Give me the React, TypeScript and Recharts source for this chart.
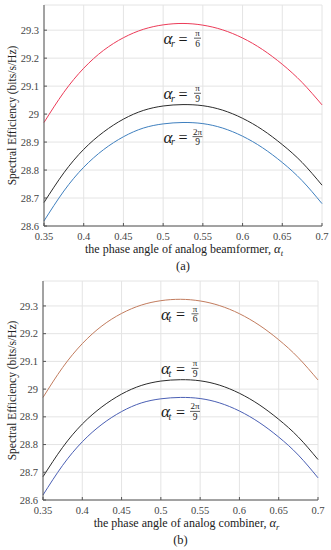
import React from "react";
import { LineChart, Line, XAxis, YAxis, CartesianGrid, ReferenceDot } from "recharts";

// phase angle samples (rad)
const phaseAngles = [0.35, 0.375, 0.4, 0.425, 0.45, 0.475, 0.5, 0.525, 0.55, 0.575, 0.6, 0.625, 0.65, 0.675, 0.7];
// spectral efficiency, one curve per fixed angle
const sePi6 = [28.97, 29.078, 29.164, 29.228, 29.273, 29.303, 29.319, 29.324, 29.318, 29.301, 29.272, 29.231, 29.178, 29.113, 29.033];
const sePi9 = [28.684, 28.79, 28.874, 28.936, 28.982, 29.013, 29.029, 29.034, 29.03, 29.014, 28.985, 28.944, 28.891, 28.827, 28.746];
const se2Pi9 = [28.618, 28.725, 28.81, 28.873, 28.919, 28.95, 28.965, 28.97, 28.966, 28.95, 28.921, 28.88, 28.827, 28.762, 28.68];

const xTicks = [0.35, 0.4, 0.45, 0.5, 0.55, 0.6, 0.65, 0.7];
const yTicks = [28.6, 28.7, 28.8, 28.9, 29, 29.1, 29.2, 29.3];

// where the curve labels sit (data coords, baseline of the alpha)
const labelX = 0.525;
const labelY = [29.25, 29.053, 28.898];
const labelNum = ["π", "π", "2π"];
const labelDen = ["6", "9", "9"];

const data = phaseAngles.map((x, i) => ({ x, a: sePi6[i], b: sePi9[i], c: se2Pi9[i] }));

const AXIS = "#555";
const SERIF = "Liberation Serif, Times New Roman, serif";

function BottomTick({ x, y, payload }: any) {
  return (
    <g>
      <line x1={x} y1={y} x2={x} y2={y - 3} stroke={AXIS} />
      <text x={x} y={y + 13.5} textAnchor="middle" fontSize={10.5} fontFamily={SERIF} fill="#444">
        {String(payload.value)}
      </text>
    </g>
  );
}
function LeftTick({ x, y, payload }: any) {
  return (
    <g>
      <line x1={x} y1={y} x2={x + 3} y2={y} stroke={AXIS} />
      <text x={x - 5} y={y + 3.6} textAnchor="end" fontSize={10.5} fontFamily={SERIF} fill="#444">
        {String(payload.value)}
      </text>
    </g>
  );
}
const TopTick = ({ x, y }: any) => <line x1={x} y1={y} x2={x} y2={y + 3} stroke={AXIS} />;
const RightTick = ({ x, y }: any) => <line x1={x} y1={y} x2={x - 3} y2={y} stroke={AXIS} />;

function MathLabel({ cx, b, sub, num, den }: any) {
  const fx = cx + 14.5;
  const barW = num.length > 1 ? 10 : 7;
  return (
    <g fontFamily={SERIF} fill="#1a1a1a">
      <text x={cx - 10.5} y={b} fontSize={17} fontStyle="italic" textAnchor="end">α</text>
      <text x={cx - 12} y={b + 2.5} fontSize={10} fontStyle="italic">{sub}</text>
      <text x={cx} y={b + 0.5} fontSize={16} textAnchor="middle">=</text>
      <text x={fx} y={b - 8} fontSize={9} textAnchor="middle">{num}</text>
      <line x1={fx - barW / 2} x2={fx + barW / 2} y1={b - 6} y2={b - 6} stroke="#1a1a1a" strokeWidth={0.7} />
      <text x={fx} y={b + 2.5} fontSize={9.5} textAnchor="middle">{den}</text>
    </g>
  );
}

interface PanelProps {
  top: number;
  margin: { top: number; right: number; left: number; bottom: number };
  yWidth: number;
  xHeight: number;
  colors: string[];
  labelSub: string;
  xTitle: string;
  xSub: string;
  titleShift: number;
  caption: string;
}

function Panel(p: PanelProps) {
  return (
    <div style={{ position: "absolute", left: 0, top: p.top }}>
      <LineChart width={331} height={275} data={data} margin={p.margin}>
        <CartesianGrid stroke="#e4e4e4" strokeWidth={1} />
        <XAxis
          dataKey="x" type="number" domain={[0.35, 0.7]} ticks={xTicks} interval={0}
          height={p.xHeight} tickSize={0} tickMargin={0} tickLine={false}
          axisLine={{ stroke: AXIS }} tick={<BottomTick />}
          label={{
            content: (lp: any) => {
              const vb = lp.viewBox;
              const cx = vb.x + vb.width / 2;
              return (
                <g fontFamily={SERIF} fill="#222">
                  <text x={cx + p.titleShift} y={vb.y + 27} textAnchor="middle" fontSize={12}>
                    {p.xTitle}
                    <tspan fontStyle="italic" fontSize={12.5}>α</tspan>
                    <tspan fontStyle="italic" fontSize={8.5} dy={2.5}>{p.xSub}</tspan>
                  </text>
                  <text x={cx} y={vb.y + 43.5} textAnchor="middle" fontSize={12.5}>{p.caption}</text>
                </g>
              );
            },
          }}
        />
        <XAxis
          xAxisId="top" orientation="top" dataKey="x" type="number" domain={[0.35, 0.7]}
          allowDataOverflow ticks={xTicks} interval={0} height={0} tickSize={0} tickMargin={0}
          tickLine={false} axisLine={{ stroke: AXIS }} tick={<TopTick />}
        />
        <YAxis
          type="number" domain={[28.6, 29.39]} ticks={yTicks} interval={0} width={p.yWidth}
          tickSize={0} tickMargin={0} tickLine={false} axisLine={{ stroke: AXIS }} tick={<LeftTick />}
          label={{
            content: (lp: any) => {
              const vb = lp.viewBox;
              const cy = vb.y + vb.height / 2;
              return (
                <text x={16} y={cy} transform={`rotate(-90 16 ${cy})`} textAnchor="middle"
                  fontSize={11.5} fontFamily={SERIF} fill="#222">
                  Spectral Efficiency (bits/s/Hz)
                </text>
              );
            },
          }}
        />
        <YAxis
          yAxisId="right" orientation="right" type="number" domain={[28.6, 29.39]} allowDataOverflow
          ticks={yTicks} interval={0} width={0} tickSize={0} tickMargin={0} tickLine={false}
          axisLine={{ stroke: AXIS }} tick={<RightTick />}
        />
        <Line type="natural" dataKey="a" stroke={p.colors[0]} strokeWidth={1} dot={false} isAnimationActive={false} />
        <Line type="natural" dataKey="b" stroke={p.colors[1]} strokeWidth={1} dot={false} isAnimationActive={false} />
        <Line type="natural" dataKey="c" stroke={p.colors[2]} strokeWidth={1} dot={false} isAnimationActive={false} />
        {labelY.map((ly, i) => (
          <ReferenceDot
            key={i} x={labelX} y={ly} r={0} fill="none" stroke="none" ifOverflow="visible"
            label={{
              content: (lp: any) => (
                <MathLabel cx={lp.viewBox.x} b={lp.viewBox.y} sub={p.labelSub} num={labelNum[i]} den={labelDen[i]} />
              ),
            }}
          />
        ))}
      </LineChart>
    </div>
  );
}

export default function App() {
  return (
    <div style={{ position: "absolute", left: 0, top: 0, width: 331, height: 550, background: "#fff" }}>
      <Panel
        top={0}
        margin={{ top: 5, right: 9, left: 0, bottom: 0 }}
        yWidth={44}
        xHeight={49}
        colors={["#ec3b58", "#2b2b2b", "#3f80bf"]}
        labelSub="r"
        xTitle="the phase angle of analog beamformer, "
        xSub="t"
        titleShift={1}
        caption="(a)"
      />
      <Panel
        top={275}
        margin={{ top: 6, right: 13, left: 0, bottom: 0 }}
        yWidth={43}
        xHeight={50}
        colors={["#c27c5e", "#2b2b2b", "#4a5fb4"]}
        labelSub="t"
        xTitle="the phase angle of analog combiner, "
        xSub="r"
        titleShift={6}
        caption="(b)"
      />
    </div>
  );
}
